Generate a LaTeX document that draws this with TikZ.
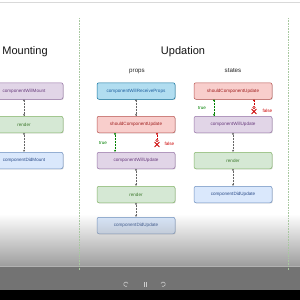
\documentclass[tikz,border=0pt]{standalone}
\usepackage{fontspec}
\setmainfont{Liberation Sans}
\usetikzlibrary{arrows.meta,calc,shadows,fadings}
\definecolor{purF}{HTML}{E1D5E7}\definecolor{purD}{HTML}{9673A6}\definecolor{purT}{HTML}{6A3D7E}
\definecolor{grnF}{HTML}{D5E8D4}\definecolor{grnD}{HTML}{82B366}\definecolor{grnT}{HTML}{3E7A2E}
\definecolor{bluF}{HTML}{DAE8FC}\definecolor{bluD}{HTML}{6C8EBF}\definecolor{bluT}{HTML}{2E4E8A}
\definecolor{redF}{HTML}{F8CECC}\definecolor{redD}{HTML}{B85450}\definecolor{redT}{HTML}{A02020}
\definecolor{cyaF}{HTML}{B1DDF0}\definecolor{cyaD}{HTML}{10739E}\definecolor{cyaT}{HTML}{1F5F9F}
\definecolor{sepC}{HTML}{A8C8A0}
\begin{document}
\begin{tikzpicture}[x=1pt,y=-1pt,
  box/.style={rounded corners=2pt, minimum width=78pt, minimum height=16.5pt, draw, line width=0.5pt,
    font=\fontsize{4.6}{5}\selectfont, inner sep=0pt,
    drop shadow={shadow xshift=0.7pt, shadow yshift=-0.7pt, opacity=0.35}},
  pur/.style={box, fill=purF, draw=purD, text=purT},
  grn/.style={box, fill=grnF, draw=grnD, text=grnT},
  blu/.style={box, fill=bluF, draw=bluD, text=bluT},
  red/.style={box, fill=redF, draw=redD, text=redT},
  cya/.style={box, fill=cyaF, draw=cyaD, text=cyaT},
  flow/.style={densely dotted, line width=0.5pt, draw=black!60, {Circle[length=1.8pt]}-{Stealth[length=2.2pt,width=2pt]}},
  tflow/.style={flow, draw=green!50!black},
  fflow/.style={densely dotted, line width=0.5pt, draw=red!80!black, {Circle[length=1.8pt]}-},
  title/.style={font=\fontsize{11}{12}\selectfont, text=black!92},
  sub/.style={font=\fontsize{6.2}{7}\selectfont, text=black!85},
  tlab/.style={font=\fontsize{4.6}{5}\selectfont, text=green!50!black},
  flab/.style={font=\fontsize{4.6}{5}\selectfont, text=red!80!black},
  sep/.style={densely dotted, draw=sepC, line width=0.6pt}
]
\useasboundingbox (0,0) rectangle (300,300);
\clip (0,0) rectangle (300,300);
\fill[white] (0,0) rectangle (300,300);
\draw[black!15, line width=0.8pt] (0,2) -- (300,2);

% separators
\coordinate (s1t) at (79,18); \coordinate (s1b) at (79,270);
\coordinate (s2t) at (288,18); \coordinate (s2b) at (288,270);

% titles
\node[title] (tm) at (25,52) {Mounting};
\node[title] (tu) at (183,52) {Updation};
\node[sub] (tp) at (137,71) {props};
\node[sub] (ts) at (233,71) {states};

% mounting
\node[pur] (cwm) at (24,91) {componentWillMount};
\node[grn] (rm)  at (24,124.5) {render};
\node[blu] (cdm) at (24,160.5) {componentDidMount};
\draw[flow] (cwm) -- (rm);
\draw[flow] (rm) -- (cdm);

% props
\node[cya] (cwrp) at (136,91) {componentWillReceiveProps};
\node[red] (scu1) at (136,124.5) {shouldComponentUpdate};
\node[pur] (cwu1) at (136,160.5) {componentWillUpdate};
\node[grn] (r1)   at (136,194.5) {render};
\node[blu] (cdu1) at (136,225.5) {componentDidUpdate};
\draw[flow] (cwrp) -- (scu1);
\draw[tflow] (scu1.south -| 115,0) -- (cwu1.north -| 115,0);
\node[tlab] (t1) at (103,143) {true};
\coordinate (x1) at (157,142.5);
\draw[fflow] (scu1.south -| x1) -- ($(x1)+(0,-4)$);
\node[flab,anchor=west] (f1) at (161,144) {false};
\draw[flow] (cwu1) -- (r1);
\draw[flow] (r1) -- (cdu1);

% states
\node[red] (scu2) at (233,91) {shouldComponentUpdate};
\node[pur] (cwu2) at (233,124.5) {componentWillUpdate};
\node[grn] (r2)   at (233,160.5) {render};
\node[blu] (cdu2) at (233,194.5) {componentDidUpdate};
\draw[tflow] (scu2.south -| 214,0) -- (cwu2.north -| 214,0);
\node[tlab] (t2) at (202,108) {true};
\coordinate (x2) at (254,109.5);
\draw[fflow] (scu2.south -| x2) -- ($(x2)+(0,-4)$);
\node[flab,anchor=west] (f2) at (259,111) {false};
\draw[flow] (cwu2) -- (r2);
\draw[flow] (r2) -- (cdu2);

% X icons
\foreach \c in {x1,x2}{
  \draw[red!80!black, line width=0.9pt] ($(\c)+(-2.4,-0.5)$) -- ($(\c)+(2.4,4.5)$);
  \draw[red!80!black, line width=0.9pt] ($(\c)+(2.4,-0.5)$) -- ($(\c)+(-2.4,4.5)$);
  \draw[red!80!black, line width=0.6pt] ($(\c)+(0,-2)$) circle (1.3pt);
}

% bottom video overlay
\fill[black!38, path fading=north] (0,214) rectangle (300,266);
\fill[black!55] (0,266) rectangle (300,290);
\draw[black!30, line width=0.5pt] (0,266) -- (300,266);
\fill[black] (0,290) rectangle (300,300);

\draw[sep] (s1t) -- (s1b);
\draw[sep] (s2t) -- (s2b);

% controls
\coordinate (c1) at (126,284.5); \coordinate (c2) at (145,284.5); \coordinate (c3) at (163,284.5);
\draw[white!80!black, line width=0.6pt] ($(c1)+(2,-1)$) arc (20:300:2.2pt);
\draw[white!80!black, line width=0.6pt] ($(c3)+(-2,-1)$) arc (160:-120:2.2pt);
\draw[white!80!black, line width=0.8pt] ($(c2)+(-1,-2.5)$) -- ($(c2)+(-1,2.5)$);
\draw[white!80!black, line width=0.8pt] ($(c2)+(1,-2.5)$) -- ($(c2)+(1,2.5)$);
\end{tikzpicture}
\end{document}
